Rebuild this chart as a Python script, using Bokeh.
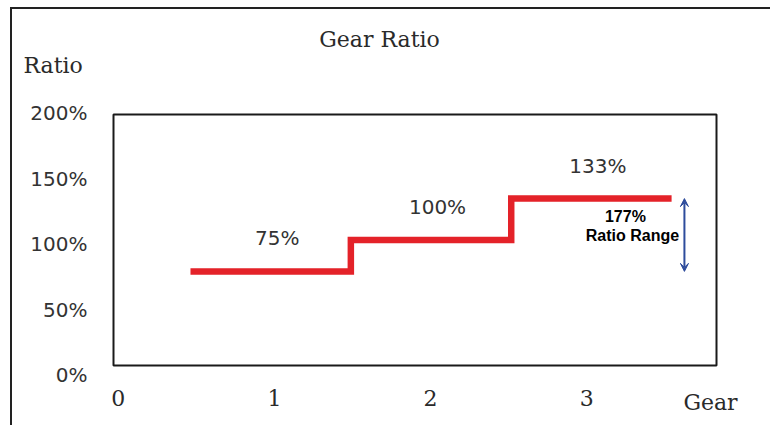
from bokeh.plotting import figure
from bokeh.models import Range1d, Label, Arrow, VeeHead, BoxAnnotation
from bokeh.embed import file_html
from bokeh.resources import INLINE
from bokeh.core.properties import value

# ---- data ----
gears = [1, 2, 3]
ratios = [75, 100, 133]
ratio_labels = ["75%", "100%", "133%"]
x_ticks = [0, 1, 2, 3]
y_ticks = [0, 50, 100, 150, 200]
y_tick_labels = ["0%", "50%", "100%", "150%", "200%"]
title_text = "Gear Ratio"
x_title = "Gear"
y_title = "Ratio"

# plot-area (box) data limits
X_START, X_END = 0.02, 3.78
Y_START, Y_END = 0, 200

# ---- layout (pixels, canvas coordinates) ----
W, H = 760, 418
BOX_L, BOX_T, BOX_R, BOX_B = 101, 105, 704, 356   # plot box inside canvas

SERIF = "DejaVu Serif"
SANS = "DejaVu Sans"
TXT = "#2a2a2a"
RED = "#E42229"
BLUE = "#2E4C9C"

# frame covers the whole canvas; compute ranges so the box maps to data limits
sx = (X_END - X_START) / (BOX_R - BOX_L)
sy = (Y_END - Y_START) / (BOX_B - BOX_T)
x_range = Range1d(X_START - BOX_L * sx, X_END + (W - BOX_R) * sx)
y_range = Range1d(Y_START - (H - BOX_B) * sy, Y_END + BOX_T * sy)

p = figure(width=W, height=H, x_range=x_range, y_range=y_range,
           x_axis_location=None, y_axis_location=None, toolbar_location=None,
           output_backend="svg", min_border=0, title=None)
p.xgrid.visible = False
p.ygrid.visible = False
p.outline_line_color = None
p.background_fill_color = "white"
p.border_fill_color = "white"
p.styles = {"margin-left": "10px", "margin-top": "7px",
            "border-left": "2px solid #222", "border-top": "2px solid #222"}

# plot-area box
p.add_layout(BoxAnnotation(left=X_START, right=X_END, bottom=Y_START, top=Y_END,
                           fill_color=None, fill_alpha=0, line_color="#1a1a1a",
                           line_alpha=1.0, line_width=2))

# label scales (the tick labels in the original sit on their own spacing)
ylab_px0, ylab_k = 374.5 - 9, 1.31          # canvas y of 0%, px per %
xlab_px0, xlab_k = 117.7 - 12, 156.2        # canvas x of gear 0, px per gear
p.extra_y_ranges = {"ylab": Range1d((ylab_px0 - H) / ylab_k, ylab_px0 / ylab_k)}
p.extra_x_ranges = {"xlab": Range1d(-xlab_px0 / xlab_k, (W - xlab_px0) / xlab_k)}

# step line built from gear list
xs, ys = [], []
for g, r in zip(gears, ratios):
    xs += [g - 0.5, g + 0.5]
    ys += [r, r]
p.line(xs, ys, line_color=RED, line_width=6.5, line_join="miter")

# data labels
p.text(x=gears, y=ratios, text=ratio_labels, x_offset=6.5, y_offset=-33,
       text_align="center", text_baseline="middle", text_font=value(SANS),
       text_font_size="20px", text_color="#333333")

# ratio range arrow + annotation
ax = gears[-1] + 0.58
p.add_layout(Arrow(x_start=ax, y_start=min(ratios), x_end=ax, y_end=max(ratios),
                   line_color=BLUE, line_width=2,
                   start=VeeHead(size=8, fill_color=BLUE, line_color=BLUE),
                   end=VeeHead(size=8, fill_color=BLUE, line_color=BLUE)))
rng = round(100 * max(ratios) / min(ratios))
p.add_layout(Label(x=ax, y=max(ratios), text=f"{rng}%", x_offset=-59, y_offset=-17.5,
                   text_align="center", text_baseline="middle",
                   text_font="Liberation Sans", text_font_style="bold",
                   text_font_size="16px", text_color="black"))
p.add_layout(Label(x=ax, y=max(ratios), text="Ratio Range", x_offset=-52, y_offset=-36.5,
                   text_align="center", text_baseline="middle",
                   text_font="Liberation Sans", text_font_style="bold",
                   text_font_size="16px", text_color="black"))

# y tick labels
for t, lab in zip(y_ticks, y_tick_labels):
    p.add_layout(Label(x=X_START, y=t, y_range_name="ylab", text=lab, x_offset=-26,
                       text_align="right", text_baseline="middle",
                       text_font=SANS, text_font_size="20px", text_color="#333333"))
# x tick labels
for t in x_ticks:
    p.add_layout(Label(x=t, y=Y_START, x_range_name="xlab", text=str(t), y_offset=-32.5,
                       text_align="center", text_baseline="middle",
                       text_font=SERIF, text_font_size="22px", text_color=TXT))

# titles
p.add_layout(Label(x=X_START, y=Y_END, text=title_text, x_offset=266, y_offset=75,
                   text_align="center", text_baseline="middle",
                   text_font=SERIF, text_font_size="22px", text_color=TXT))
p.add_layout(Label(x=X_START, y=Y_END, text=y_title, x_offset=-90, y_offset=49,
                   text_align="left", text_baseline="middle",
                   text_font=SERIF, text_font_size="22px", text_color=TXT))
p.add_layout(Label(x=X_END, y=Y_START, text=x_title, x_offset=-6, y_offset=-37,
                   text_align="center", text_baseline="middle",
                   text_font=SERIF, text_font_size="22px", text_color=TXT))

open("out.html", "w").write(file_html(p, INLINE))
